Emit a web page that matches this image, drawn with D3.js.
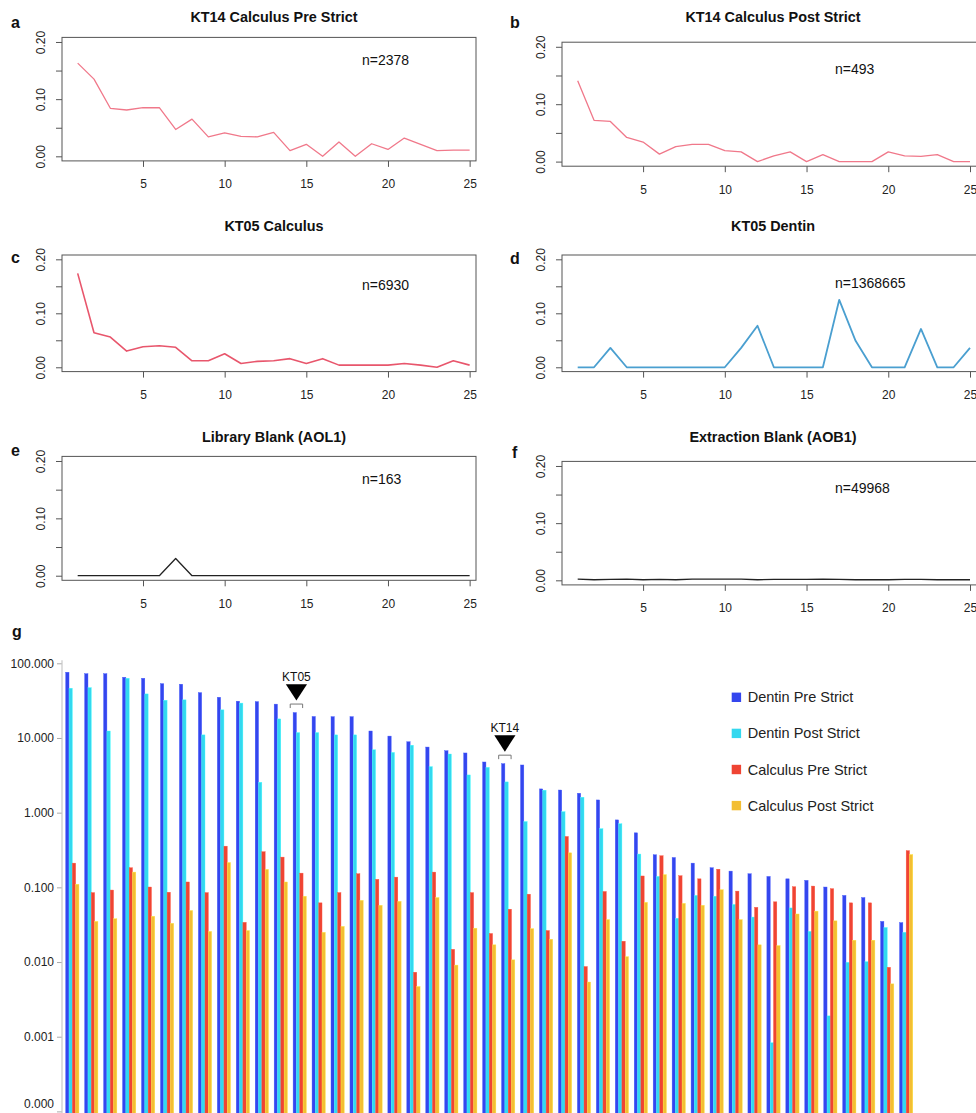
<!DOCTYPE html>
<html>
<head>
<meta charset="utf-8">
<script src="https://cdn.jsdelivr.net/npm/d3@7"></script>
<style>
  html, body { margin: 0; padding: 0; background: #fff; }
  svg { display: block; font-family: "Liberation Sans", Arial, Helvetica, sans-serif; }
</style>
</head>
<body>
<svg id="chart" width="976" height="1113"></svg>
<script>
// ---------------- DATA ----------------
const positions = [1,2,3,4,5,6,7,8,9,10,11,12,13,14,15,16,17,18,19,20,21,22,23,24,25];
const xTickValues = [5, 10, 15, 20, 25];
const yTickValues = [0, 0.05, 0.10, 0.15, 0.20];
const yTickLabels = ["0.00", "", "0.10", "", "0.20"];

const panelLetters = ["a", "b", "c", "d", "e", "f"];
const panelTitles = ["KT14 Calculus Pre Strict", "KT14 Calculus Post Strict", "KT05 Calculus",
                     "KT05 Dentin", "Library Blank (AOL1)", "Extraction Blank (AOB1)"];
const panelCounts = ["n=2378", "n=493", "n=6930", "n=1368665", "n=163", "n=49968"];

const kt14CalculusPre  = [0.163,0.135,0.084,0.081,0.085,0.085,0.047,0.065,0.034,0.041,0.035,0.034,0.042,0.010,0.021,0.000,0.025,0.000,0.022,0.012,0.032,0.021,0.010,0.011,0.011];
const kt14CalculusPost = [0.141,0.072,0.070,0.042,0.034,0.013,0.026,0.030,0.030,0.019,0.017,0.000,0.010,0.017,0.000,0.012,0.000,0.000,0.000,0.017,0.010,0.009,0.012,0.000,0.000];
const kt05Calculus     = [0.174,0.064,0.056,0.030,0.038,0.040,0.037,0.012,0.012,0.025,0.007,0.011,0.012,0.016,0.007,0.016,0.004,0.004,0.004,0.004,0.007,0.004,0.000,0.012,0.004];
const kt05Dentin       = [0.000,0.000,0.036,0.000,0.000,0.000,0.000,0.000,0.000,0.000,0.036,0.077,0.000,0.000,0.000,0.000,0.125,0.049,0.000,0.000,0.000,0.071,0.000,0.000,0.036];
const libraryBlank     = [0.000,0.000,0.000,0.000,0.000,0.000,0.030,0.000,0.000,0.000,0.000,0.000,0.000,0.000,0.000,0.000,0.000,0.000,0.000,0.000,0.000,0.000,0.000,0.000,0.000];
const extractionBlank  = [0.002,0.001,0.0015,0.002,0.001,0.0015,0.001,0.002,0.002,0.002,0.002,0.001,0.0015,0.0015,0.0015,0.002,0.0015,0.001,0.001,0.001,0.0015,0.0015,0.001,0.001,0.001];

// Panel g
const seriesNames = ["Dentin Pre Strict", "Dentin Post Strict", "Calculus Pre Strict", "Calculus Post Strict"];
const dentinPre   = [75.9,72.6,72.6,65,63,53.4,52.5,40.5,35.1,31.1,30.7,28.4,21.9,19.4,19.3,19.3,12.4,10.6,8.9,7.56,6.75,6.3,4.77,4.53,4.35,2.08,2.01,1.82,1.48,0.80,0.537,0.273,0.251,0.211,0.183,0.165,0.152,0.140,0.130,0.124,0.101,0.078,0.073,0.035,0.0337];
const dentinPost  = [46.4,47.2,12.4,63,38.9,32,32.4,11.0,23.8,29.3,2.55,18.0,11.8,11.8,11.0,11.0,6.95,6.4,8.0,4.13,6.1,3.2,4.04,2.58,0.76,2.0,1.03,1.61,0.61,0.71,0.279,0.140,0.0385,0.078,0.076,0.059,0.040,0.00083,0.053,0.0257,0.0019,0.0099,0.0101,0.029,0.025];
const calculusPre = [0.211,0.085,0.092,0.183,0.101,0.086,0.118,0.085,0.356,0.034,0.30,0.254,0.155,0.062,0.085,0.152,0.128,0.137,0.0073,0.16,0.0148,0.085,0.0241,0.051,0.081,0.0264,0.48,0.0087,0.088,0.019,0.142,0.265,0.143,0.130,0.175,0.089,0.054,0.064,0.102,0.104,0.096,0.062,0.062,0.0085,0.31];
const calculusPost= [0.110,0.035,0.038,0.160,0.041,0.033,0.049,0.0257,0.215,0.0264,0.174,0.118,0.076,0.025,0.030,0.067,0.0575,0.065,0.0047,0.073,0.0091,0.0284,0.017,0.0107,0.028,0.0202,0.29,0.0054,0.037,0.0118,0.063,0.148,0.061,0.0575,0.093,0.037,0.017,0.0166,0.044,0.048,0.0356,0.0196,0.0196,0.0051,0.275];
const logTickValues = [100, 10, 1, 0.1, 0.01, 0.001, 0.0001];
const annotations = [{label: "KT05", group: 12}, {label: "KT14", group: 23}];

// ---------------- LAYOUT / STYLE ----------------
const svg = d3.select("#chart");
const FONT = 12;
const lineSeries = [kt14CalculusPre, kt14CalculusPost, kt05Calculus, kt05Dentin, libraryBlank, extractionBlank];
const lineColors = ["#f0788a", "#f0788a", "#e8566c", "#4a9fd0", "#222", "#222"];
const lineWidths = [1.3, 1.3, 1.6, 1.8, 1.3, 1.3];
const layouts = [
  {l: 62,  r: 476,   t: 37.4,  b: 160.9, xmax: 25.39, tx: 274, ty: 22,  lx: 11,  ly: 28,  nx: 362, ny: 65},
  {l: 562, r: 985.7, t: 42.2,  b: 166.2, xmax: 25.96, tx: 773, ty: 22,  lx: 510, ly: 28,  nx: 835, ny: 74},
  {l: 62,  r: 476,   t: 255.0, b: 371.6, xmax: 25.39, tx: 274, ty: 231, lx: 11,  ly: 263, nx: 362, ny: 290},
  {l: 562, r: 985.7, t: 255.0, b: 371.6, xmax: 25.96, tx: 773, ty: 231, lx: 510, ly: 264, nx: 835, ny: 288},
  {l: 62,  r: 476,   t: 456.4, b: 580.3, xmax: 25.39, tx: 274, ty: 442, lx: 11,  ly: 456, nx: 362, ny: 484},
  {l: 562, r: 985.7, t: 461.4, b: 584.9, xmax: 25.96, tx: 773, ty: 442, lx: 512, ly: 458, nx: 835, ny: 493}
];

lineSeries.forEach((vals, i) => {
  const L = layouts[i];
  const x = d3.scaleLinear().domain([0.04, L.xmax]).range([L.l, L.r]);
  const y = d3.scaleLinear().domain([-0.008, 0.208]).range([L.b, L.t]);
  const g = svg.append("g");

  g.append("text").attr("x", L.tx).attr("y", L.ty).attr("text-anchor", "middle")
    .attr("font-size", 14.4).attr("font-weight", "bold").attr("fill", "#111").text(panelTitles[i]);
  g.append("text").attr("x", L.lx).attr("y", L.ly).attr("font-size", 16).attr("font-weight", "bold")
    .attr("fill", "#111").text(panelLetters[i]);

  const xAxis = d3.axisBottom(x).tickValues(xTickValues).tickSize(6).tickPadding(13).tickFormat(d3.format("d"));
  const gx = g.append("g").attr("transform", `translate(0,${L.b})`).call(xAxis);
  gx.select(".domain").remove();
  gx.selectAll("line").attr("stroke", "#555");
  gx.selectAll("text").attr("font-size", FONT).attr("fill", "#222").attr("font-family", null);

  const yAxis = d3.axisLeft(y).tickValues(yTickValues).tickSize(6).tickFormat((d, k) => yTickLabels[k]);
  const gy = g.append("g").attr("transform", `translate(${L.l},0)`).call(yAxis);
  gy.select(".domain").remove();
  gy.selectAll("line").attr("stroke", "#555");
  gy.selectAll(".tick text")
    .attr("font-size", FONT).attr("fill", "#222").attr("font-family", null)
    .attr("text-anchor", "middle").attr("x", 0).attr("dy", 0)
    .attr("transform", "translate(-17,0) rotate(-90)");

  const line = d3.line().x((d, k) => x(positions[k])).y(d => y(d));
  g.append("path").datum(vals).attr("d", line).attr("fill", "none")
    .attr("stroke", lineColors[i]).attr("stroke-width", lineWidths[i]).attr("stroke-linejoin", "round");

  g.append("rect").attr("x", L.l).attr("y", L.t).attr("width", L.r - L.l).attr("height", L.b - L.t)
    .attr("fill", "none").attr("stroke", "#555").attr("stroke-width", 1);

  g.append("text").attr("x", L.nx).attr("y", L.ny).attr("font-size", 14).attr("fill", "#111").text(panelCounts[i]);
});

// ---------------- PANEL g ----------------
const G = {axisX: 62, left: 65.7, right: 912.8, top: 663.3, bottom: 1111.4};
svg.append("text").attr("x", 12).attr("y", 637).attr("font-size", 16).attr("font-weight", "bold")
  .attr("fill", "#111").text("g");

const yLog = d3.scaleLog().domain([0.0001, 100]).range([G.bottom, G.top]);
const groups = dentinPre.map((d, i) => i);
const xGroup = d3.scaleBand().domain(groups).range([G.left, G.right]).paddingInner(0.3).paddingOuter(0).align(0);
const xSeries = d3.scaleBand().domain(seriesNames).range([0, xGroup.bandwidth()]).padding(0);
const barColors = ["#3446ee", "#33d8ef", "#ef4433", "#f3be33"];
const barValues = [dentinPre, dentinPost, calculusPre, calculusPost];
const baseValue = 0.00005;

const gBars = svg.append("g");
groups.forEach(gi => {
  seriesNames.forEach((s, si) => {
    const v = barValues[si][gi];
    gBars.append("rect")
      .attr("x", xGroup(gi) + xSeries(s))
      .attr("y", yLog(v))
      .attr("width", xSeries.bandwidth())
      .attr("height", yLog(baseValue) - yLog(v))
      .attr("fill", barColors[si])
      .attr("stroke", d3.color(barColors[si]).brighter(0.6))
      .attr("stroke-width", 0.4);
  });
});

const yAxisG = d3.axisLeft(yLog).tickValues(logTickValues).tickSize(5).tickPadding(3)
  .tickFormat(d => d.toFixed(3));
const gyl = svg.append("g").attr("transform", `translate(${G.axisX},0)`).call(yAxisG);
gyl.select(".domain").remove();
gyl.append("line").attr("x1", 0).attr("x2", 0).attr("y1", yLog(100) - 3).attr("y2", yLog(baseValue))
  .attr("stroke", "#c8c8c8").attr("stroke-width", 1.2);
gyl.selectAll(".tick line").attr("stroke", "#aaa");
gyl.selectAll(".tick text").attr("font-size", FONT).attr("fill", "#222").attr("font-family", null)
  .attr("dy", d => d < 0.0005 ? "-0.3em" : "0.32em");

annotations.forEach(a => {
  const cx = xGroup(a.group) + xSeries.bandwidth();
  const top = yLog(dentinPre[a.group]);
  const ga = svg.append("g");
  ga.append("text").attr("x", cx).attr("y", top - 31.3).attr("text-anchor", "middle")
    .attr("font-size", 12).attr("fill", "#111").text(a.label);
  ga.append("path")
    .attr("d", `M${cx - 10.6},${top - 28.4}L${cx + 10.6},${top - 28.4}L${cx},${top - 12}Z`)
    .attr("fill", "#000");
  ga.append("path")
    .attr("d", `M${cx - 6.2},${top - 4.5}V${top - 8.5}H${cx + 6.2}V${top - 4.5}`)
    .attr("fill", "none").attr("stroke", "#777").attr("stroke-width", 1);
});

const legend = svg.append("g").attr("transform", "translate(731.7,697.3)");
seriesNames.forEach((s, i) => {
  const row = legend.append("g").attr("transform", `translate(0,${i * 36.1})`);
  row.append("rect").attr("x", 0).attr("y", -4.7).attr("width", 9.4).attr("height", 9.4).attr("fill", barColors[i]);
  row.append("text").attr("x", 16).attr("y", 5).attr("font-size", 14.5).attr("fill", "#222").text(s);
});
</script>
</body>
</html>
